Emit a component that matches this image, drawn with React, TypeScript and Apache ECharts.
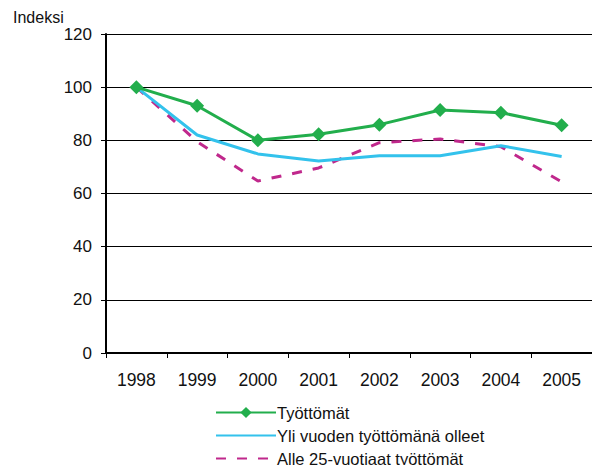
import React, { useEffect, useRef } from "react";
import * as echarts from "echarts";

const years = ["1998", "1999", "2000", "2001", "2002", "2003", "2004", "2005"];
const tyottomat = [100, 93, 80, 82.3, 85.9, 91.4, 90.4, 85.7];
const yliVuoden = [100, 82, 74.9, 72.2, 74.2, 74.2, 78, 73.9];
const alle25 = [100, 79.5, 64.7, 69.6, 79.1, 80.5, 77.6, 64.4];
const seriesNames = ["Työttömät", "Yli vuoden työttömänä olleet", "Alle 25-vuotiaat työttömät"];

const FONT = "Liberation Sans, Arial, sans-serif";

export default function App() {
  const ref = useRef<HTMLDivElement>(null);
  useEffect(() => {
    if (!ref.current) return;
    const chart = echarts.init(ref.current, undefined, { renderer: "svg" });
    chart.setOption({
      animation: false,
      backgroundColor: "#ffffff",
      textStyle: { fontFamily: FONT },
      graphic: [
        {
          type: "text",
          left: 13,
          top: 9,
          style: { text: "Indeksi", font: `16px ${FONT}`, fill: "#111" },
        },
      ],
      grid: { left: 106, top: 34, right: -2, bottom: 112, containLabel: false },
      legend: {
        orient: "vertical",
        left: 210,
        top: 399,
        height: 120,
        itemWidth: 60,
        itemHeight: 14,
        itemGap: 6,
        textStyle: { fontSize: 16.5, color: "#111", fontFamily: FONT, padding: [0, 0, 0, -4] },
        data: [
          { name: seriesNames[0] },
          { name: seriesNames[1], itemStyle: { opacity: 0 } },
          { name: seriesNames[2], itemStyle: { opacity: 0 } },
        ],
      },
      xAxis: {
        type: "category",
        data: years,
        boundaryGap: true,
        axisLine: { lineStyle: { color: "#000", width: 2 } },
        axisTick: { show: true, length: 5, lineStyle: { color: "#000", width: 1 } },
        axisLabel: { fontSize: 17.5, color: "#111", margin: 18, fontFamily: FONT },
        splitLine: { show: false },
      },
      yAxis: {
        type: "value",
        min: 0,
        max: 120,
        interval: 20,
        axisLine: { show: true, lineStyle: { color: "#000", width: 2 } },
        axisTick: { show: true, length: 5, lineStyle: { color: "#000", width: 1 } },
        axisLabel: { fontSize: 17, color: "#111", margin: 14, fontFamily: FONT },
        splitLine: { show: true, lineStyle: { color: "#000", width: 1 } },
      },
      series: [
        {
          name: seriesNames[0],
          type: "line",
          data: tyottomat,
          symbol: "diamond",
          symbolSize: 14,
          z: 5,
          lineStyle: { color: "#22ae4c", width: 3 },
          itemStyle: { color: "#22ae4c" },
        },
        {
          name: seriesNames[1],
          type: "line",
          data: yliVuoden,
          symbol: "none",
          z: 4,
          lineStyle: { color: "#33c2ec", width: 3 },
          itemStyle: { color: "#33c2ec" },
        },
        {
          name: seriesNames[2],
          type: "line",
          data: alle25,
          symbol: "none",
          z: 3,
          lineStyle: { color: "#c0288c", width: 3, type: [10, 11] },
          itemStyle: { color: "#c0288c" },
        },
      ],
    });
    return () => chart.dispose();
  }, []);
  return (
    <div
      ref={ref}
      style={{ position: "absolute", left: 0, top: 0, width: 592, height: 465 }}
    />
  );
}
